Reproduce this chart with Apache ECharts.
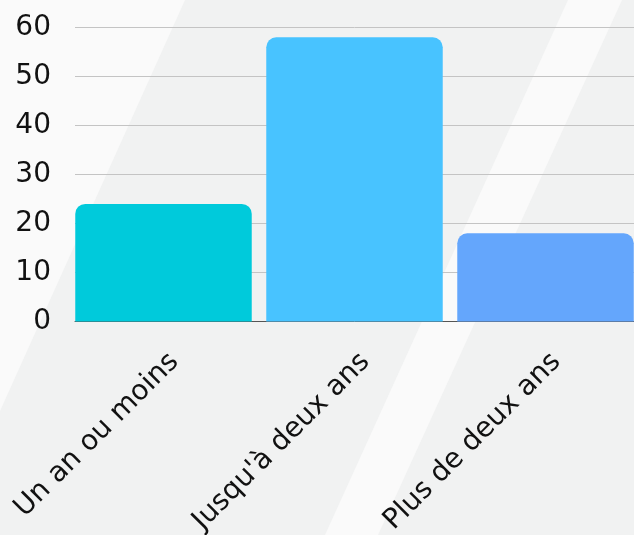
<!DOCTYPE html>
<html>
<head>
<meta charset="utf-8">
<script src="https://cdn.jsdelivr.net/npm/echarts@6/dist/echarts.min.js"></script>
<style>
  html, body { margin: 0; padding: 0; }
  #chart { width: 634px; height: 535px; }
</style>
</head>
<body>
<div id="chart"></div>
<script>
const categories = ['Un an ou moins', "Jusqu'à deux ans", 'Plus de deux ans'];
const values = [24, 58, 18];
const yTicks = [0, 10, 20, 30, 40, 50, 60];

const barColors = ['#00cadb', '#48c3ff', '#64a6fc'];

const chart = echarts.init(document.getElementById('chart'));

const option = {
  backgroundColor: '#f1f2f2',
  animation: false,
  graphic: [
    {
      type: 'polygon',
      z: -10,
      silent: true,
      shape: { points: [[0, 0], [185, 0], [0, 411]] },
      style: { fill: '#fafafa' }
    },
    {
      type: 'polygon',
      z: -10,
      silent: true,
      shape: { points: [[568, 0], [622, 0], [378, 535], [325, 535]] },
      style: { fill: '#fafafa' }
    }
  ],
  grid: [
    // grid lines + y labels
    { left: 75, right: 0, top: 27.5, bottom: 213.5, outerBoundsMode: 'none' },
    // bars
    { left: 68, width: 573, top: 27.5, bottom: 213.5, outerBoundsMode: 'none' },
    // x labels (sit a little right of the bar centres)
    { left: 79, width: 573, top: 27.5, bottom: 213.5, outerBoundsMode: 'none' }
  ],
  xAxis: [
    {
      gridIndex: 0,
      type: 'category',
      data: categories,
      axisLine: { show: true, lineStyle: { color: '#555', width: 1 } },
      axisTick: { show: false },
      axisLabel: { show: false }
    },
    {
      gridIndex: 1,
      type: 'category',
      data: categories,
      show: false
    },
    {
      gridIndex: 2,
      type: 'category',
      data: categories,
      axisLine: { show: false },
      axisTick: { show: false },
      axisLabel: {
        rotate: 45,
        margin: 36,
        color: '#111',
        fontSize: 28,
        fontFamily: 'DejaVu Sans'
      }
    }
  ],
  yAxis: [
    {
      gridIndex: 0,
      type: 'value',
      min: yTicks[0],
      max: yTicks[yTicks.length - 1],
      interval: 10,
      axisLine: { show: false },
      axisTick: { show: false },
      splitLine: { lineStyle: { color: '#c4c4c4', width: 1 } },
      axisLabel: {
        margin: 24,
        color: '#111',
        fontSize: 28,
        fontFamily: 'DejaVu Sans'
      }
    },
    {
      gridIndex: 1,
      type: 'value',
      min: yTicks[0],
      max: yTicks[yTicks.length - 1],
      interval: 10,
      show: false,
      splitLine: { show: false }
    },
    {
      gridIndex: 2,
      type: 'value',
      min: yTicks[0],
      max: yTicks[yTicks.length - 1],
      interval: 10,
      show: false,
      splitLine: { show: false }
    }
  ],
  series: [
    {
      type: 'bar',
      xAxisIndex: 1,
      yAxisIndex: 1,
      barCategoryGap: '7.6%',
      data: values.map((v, i) => ({
        value: v,
        itemStyle: { color: barColors[i], borderRadius: [10, 10, 0, 0] }
      }))
    }
  ]
};

chart.setOption(option);
</script>
</body>
</html>
